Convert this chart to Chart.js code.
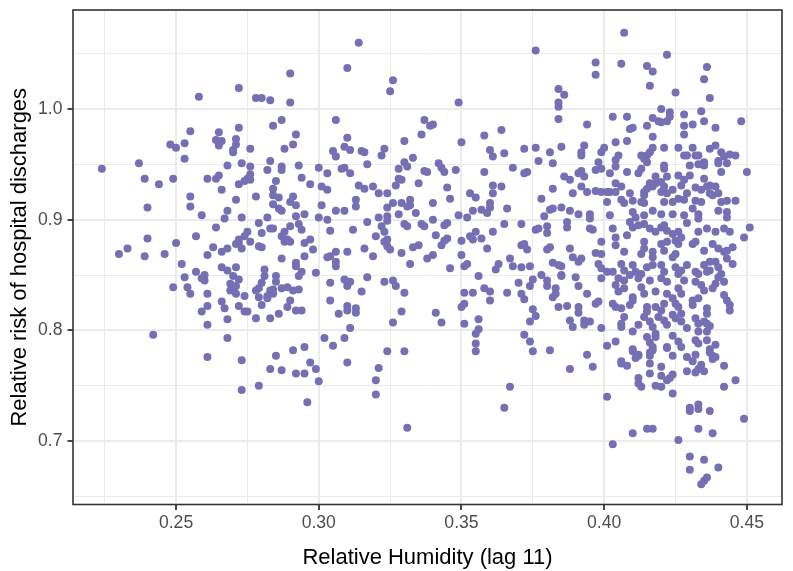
<!DOCTYPE html>
<html>
<head>
<meta charset="utf-8">
<script src="https://cdn.jsdelivr.net/npm/chart.js@4.4.1/dist/chart.umd.min.js"></script>
<style>
  html, body { margin: 0; padding: 0; background: #ffffff; }
  #wrap { width: 793px; height: 571px; position: relative; }
</style>
</head>
<body>
<div id="wrap"><canvas id="scatter"></canvas></div>
<script>
// [relative humidity (lag 11), relative risk], grouped by area
const leftUpper = [
  [0.272,1.019],[0.258,1.011],[0.255,0.980],[0.265,0.979],[0.272,0.983],[0.248,0.968],[0.250,0.965],[0.253,0.969],
  [0.264,0.972],[0.266,0.971],[0.265,0.967],[0.271,0.973],[0.271,0.968],[0.270,0.963],[0.270,0.961],[0.276,0.964],
  [0.253,0.955],[0.224,0.946],[0.237,0.951],[0.268,0.949],[0.273,0.951],[0.276,0.948],[0.239,0.937],[0.244,0.932],
  [0.249,0.937],[0.261,0.937],[0.264,0.937],[0.265,0.940],[0.266,0.927],[0.272,0.932],[0.274,0.935],[0.275,0.937],
  [0.276,0.936],[0.255,0.921],[0.255,0.912],[0.240,0.911],[0.271,0.918],[0.268,0.908],[0.267,0.901],[0.273,0.902],
  [0.259,0.904],[0.264,0.893],[0.240,0.883],[0.257,0.885],[0.233,0.874],[0.230,0.869],[0.239,0.867],[0.246,0.869],
  [0.250,0.879],[0.263,0.875],[0.261,0.868],[0.266,0.871],[0.268,0.874],[0.272,0.882],[0.272,0.879],[0.274,0.885],
  [0.275,0.889],[0.276,0.880],[0.273,0.874],[0.271,0.878]
];
const leftLower = [
  [0.252,0.860],[0.257,0.853],[0.253,0.848],[0.249,0.839],[0.254,0.839],[0.255,0.833],[0.259,0.847],[0.260,0.850],
  [0.260,0.845],[0.261,0.833],[0.261,0.822],[0.259,0.817],[0.261,0.805],[0.266,0.857],[0.268,0.854],[0.270,0.849],
  [0.271,0.857],[0.272,0.846],[0.269,0.842],[0.270,0.838],[0.269,0.836],[0.271,0.840],[0.271,0.833],[0.274,0.831],
  [0.266,0.826],[0.267,0.820],[0.272,0.822],[0.274,0.817],[0.275,0.817],[0.268,0.810],[0.242,0.796],[0.268,0.793],
  [0.261,0.776],[0.273,0.773],[0.273,0.746]
];
const midLeftUpper = [
  [0.314,1.060],[0.310,1.037],[0.290,1.032],[0.326,1.026],[0.325,1.016],[0.278,1.010],[0.280,1.010],[0.283,1.008],
  [0.290,1.006],[0.306,0.990],[0.337,0.990],[0.287,0.990],[0.284,0.985],[0.292,0.977],[0.310,0.974],[0.336,0.977],
  [0.330,0.971],[0.291,0.968],[0.288,0.964],[0.309,0.966],[0.311,0.963],[0.305,0.962],[0.306,0.957],[0.315,0.962],
  [0.316,0.961],[0.323,0.964],[0.322,0.958],[0.333,0.956],[0.283,0.953],[0.282,0.945],[0.276,0.941],[0.293,0.949],
  [0.287,0.948],[0.287,0.945],[0.300,0.947],[0.303,0.942],[0.308,0.946],[0.309,0.947],[0.311,0.942],[0.317,0.950],
  [0.328,0.946],[0.330,0.952],[0.331,0.948],[0.337,0.944],[0.338,0.943],[0.294,0.938],[0.285,0.935],[0.284,0.928],
  [0.297,0.932],[0.301,0.930],[0.303,0.927],[0.314,0.931],[0.316,0.928],[0.319,0.930],[0.321,0.924],[0.324,0.924],
  [0.328,0.937],[0.329,0.936],[0.327,0.931],[0.335,0.933],[0.278,0.921],[0.284,0.922],[0.286,0.920],[0.291,0.921],
  [0.290,0.916],[0.292,0.913],[0.284,0.914],[0.286,0.910],[0.287,0.908],[0.301,0.913],[0.306,0.908],[0.309,0.908],
  [0.313,0.918],[0.313,0.912],[0.324,0.911],[0.326,0.915],[0.329,0.915],[0.332,0.918],[0.332,0.913],[0.331,0.912],
  [0.334,0.906],[0.328,0.905],[0.295,0.905],[0.292,0.903],[0.282,0.902],[0.300,0.902],[0.303,0.900],[0.321,0.902],
  [0.324,0.903],[0.324,0.899],[0.317,0.898],[0.279,0.897],[0.283,0.892],[0.284,0.892],[0.290,0.894],[0.293,0.896],
  [0.294,0.891],[0.288,0.889],[0.287,0.885],[0.289,0.882],[0.290,0.880],[0.288,0.880],[0.280,0.888],[0.279,0.876],
  [0.280,0.875],[0.297,0.882],[0.295,0.879],[0.298,0.873],[0.304,0.890],[0.312,0.891],[0.322,0.894],[0.323,0.889],
  [0.330,0.896],[0.331,0.894],[0.336,0.896],[0.337,0.894],[0.320,0.885],[0.323,0.880],[0.324,0.876],[0.325,0.873],
  [0.324,0.882],[0.316,0.874],[0.310,0.871],[0.306,0.871],[0.304,0.867],[0.303,0.866],[0.329,0.870],[0.333,0.875],
  [0.335,0.877],[0.295,0.867],[0.287,0.865],[0.319,0.867],[0.338,0.865]
];
const midLeftLower = [
  [0.292,0.861],[0.292,0.858],[0.281,0.855],[0.294,0.853],[0.293,0.849],[0.299,0.852],[0.281,0.849],[0.280,0.843],
  [0.279,0.838],[0.278,0.836],[0.279,0.830],[0.285,0.849],[0.285,0.844],[0.283,0.836],[0.284,0.833],[0.282,0.831],
  [0.284,0.837],[0.287,0.838],[0.289,0.839],[0.291,0.836],[0.293,0.837],[0.282,0.829],[0.280,0.823],[0.290,0.827],
  [0.289,0.821],[0.286,0.815],[0.283,0.811],[0.278,0.811],[0.292,0.818],[0.294,0.818],[0.304,0.843],[0.304,0.827],
  [0.309,0.846],[0.310,0.844],[0.310,0.840],[0.311,0.844],[0.317,0.848],[0.315,0.835],[0.310,0.822],[0.310,0.818],
  [0.307,0.815],[0.313,0.820],[0.313,0.816],[0.311,0.802],[0.302,0.793],[0.309,0.793],[0.305,0.786],[0.323,0.844],
  [0.326,0.845],[0.327,0.840],[0.330,0.834],[0.329,0.817],[0.326,0.807],[0.332,0.860],[0.306,0.862],[0.306,0.858],
  [0.295,0.785],[0.291,0.782],[0.285,0.777],[0.297,0.771],[0.283,0.765],[0.287,0.764],[0.292,0.761],[0.295,0.761],
  [0.299,0.765],[0.300,0.754],[0.279,0.750],[0.296,0.735],[0.310,0.771],[0.324,0.781],[0.330,0.781],[0.321,0.766],
  [0.320,0.755],[0.320,0.742],[0.331,0.712]
];
const midRightUpper = [
  [0.376,1.053],[0.397,1.042],[0.397,1.031],[0.384,1.018],[0.386,1.013],[0.384,1.006],[0.384,1.002],[0.349,1.006],
  [0.384,0.991],[0.340,0.986],[0.339,0.985],[0.364,0.981],[0.394,0.986],[0.358,0.976],[0.350,0.970],[0.360,0.963],
  [0.361,0.957],[0.365,0.960],[0.372,0.964],[0.376,0.965],[0.381,0.961],[0.385,0.966],[0.393,0.967],[0.392,0.961],
  [0.392,0.958],[0.377,0.953],[0.382,0.951],[0.342,0.951],[0.343,0.947],[0.344,0.943],[0.348,0.945],[0.358,0.943],
  [0.368,0.947],[0.372,0.942],[0.373,0.943],[0.386,0.939],[0.388,0.936],[0.391,0.942],[0.392,0.944],[0.393,0.939],
  [0.397,0.945],[0.345,0.929],[0.361,0.931],[0.361,0.924],[0.364,0.930],[0.353,0.924],[0.355,0.920],[0.346,0.919],
  [0.340,0.915],[0.382,0.928],[0.389,0.924],[0.392,0.930],[0.394,0.925],[0.397,0.926],[0.378,0.919],[0.360,0.915],
  [0.360,0.911],[0.354,0.908],[0.357,0.909],[0.359,0.906],[0.366,0.910],[0.381,0.909],[0.382,0.910],[0.385,0.911],
  [0.388,0.908],[0.391,0.905],[0.395,0.905],[0.395,0.901],[0.349,0.904],[0.352,0.902],[0.340,0.900],[0.379,0.903],
  [0.345,0.897],[0.344,0.895],[0.365,0.896],[0.371,0.896],[0.387,0.898],[0.387,0.893],[0.380,0.894],[0.380,0.888],
  [0.376,0.891],[0.377,0.892],[0.395,0.892],[0.396,0.891],[0.355,0.889],[0.361,0.889],[0.341,0.886],[0.345,0.883],
  [0.344,0.881],[0.343,0.877],[0.350,0.881],[0.353,0.885],[0.354,0.882],[0.357,0.883],[0.359,0.874],[0.371,0.877],
  [0.372,0.878],[0.373,0.873],[0.380,0.873],[0.381,0.875],[0.388,0.874],[0.397,0.870],[0.350,0.868],[0.340,0.868],
  [0.367,0.865],[0.389,0.866],[0.392,0.865]
];
const midRightLower = [
  [0.351,0.858],[0.352,0.860],[0.346,0.856],[0.363,0.860],[0.362,0.855],[0.368,0.858],[0.371,0.857],[0.374,0.858],
  [0.382,0.861],[0.384,0.859],[0.385,0.858],[0.385,0.850],[0.385,0.849],[0.391,0.862],[0.356,0.849],[0.351,0.834],
  [0.354,0.834],[0.350,0.821],[0.351,0.824],[0.341,0.816],[0.343,0.807],[0.351,0.806],[0.358,0.838],[0.360,0.835],
  [0.360,0.827],[0.366,0.834],[0.370,0.843],[0.375,0.846],[0.378,0.850],[0.380,0.845],[0.380,0.840],[0.374,0.840],
  [0.371,0.833],[0.372,0.828],[0.383,0.838],[0.383,0.833],[0.382,0.830],[0.390,0.848],[0.391,0.840],[0.394,0.833],
  [0.397,0.824],[0.384,0.821],[0.387,0.822],[0.391,0.821],[0.391,0.816],[0.375,0.819],[0.376,0.813],[0.374,0.808],
  [0.388,0.809],[0.389,0.803],[0.393,0.809],[0.395,0.808],[0.393,0.805],[0.356,0.810],[0.356,0.801],[0.355,0.797],
  [0.355,0.788],[0.355,0.781],[0.372,0.796],[0.374,0.790],[0.375,0.781],[0.381,0.782],[0.394,0.778],[0.396,0.767],
  [0.388,0.765],[0.367,0.749],[0.365,0.730]
];
const rightTop = [
  [0.407,1.069],[0.406,1.041],[0.415,1.039],[0.417,1.034],[0.422,1.049],[0.416,1.021],[0.425,1.015],[0.420,1.000],
  [0.423,0.997],[0.423,0.993],[0.422,0.989],[0.420,0.988],[0.419,0.989],[0.417,0.992],[0.403,0.993],[0.408,0.993],
  [0.415,0.985],[0.428,0.995],[0.428,0.985],[0.409,0.982],[0.410,0.983],[0.417,0.975],[0.428,0.977],[0.408,0.971],
  [0.404,0.970],[0.400,0.965],[0.399,0.961],[0.417,0.965],[0.416,0.961],[0.415,0.958],[0.413,0.958],[0.414,0.955],
  [0.421,0.965],[0.426,0.965],[0.428,0.958],[0.405,0.958],[0.404,0.954],[0.398,0.952],[0.399,0.946],[0.415,0.952],
  [0.404,0.948],[0.421,0.949],[0.421,0.946],[0.413,0.946],[0.412,0.942],[0.408,0.943],[0.402,0.942],[0.418,0.939],
  [0.420,0.934],[0.422,0.939],[0.426,0.940],[0.428,0.936],[0.427,0.931],[0.404,0.933],[0.406,0.930],[0.416,0.933],
  [0.417,0.930],[0.418,0.933],[0.421,0.930],[0.414,0.925],[0.415,0.928],[0.399,0.925],[0.401,0.925],[0.402,0.925],
  [0.404,0.925],[0.409,0.924],[0.420,0.925],[0.422,0.924],[0.424,0.927],[0.414,0.922],[0.401,0.916],[0.406,0.918],
  [0.407,0.915],[0.410,0.917],[0.413,0.916],[0.414,0.915],[0.421,0.916],[0.424,0.916],[0.426,0.919],[0.428,0.918],
  [0.436,1.038],[0.435,1.027],[0.437,1.010],[0.434,0.998],[0.435,0.989],[0.431,0.986],[0.439,0.983],[0.448,0.989],
  [0.431,0.965],[0.429,0.958],[0.432,0.958],[0.433,0.958],[0.437,0.964],[0.439,0.967],[0.441,0.961],[0.442,0.957],
  [0.444,0.959],[0.446,0.958],[0.435,0.952],[0.435,0.951],[0.435,0.949],[0.433,0.950],[0.440,0.953],[0.440,0.951],
  [0.443,0.951],[0.430,0.949],[0.441,0.943],[0.450,0.943],[0.430,0.940],[0.435,0.937],[0.432,0.929],[0.434,0.927],
  [0.436,0.930],[0.437,0.931],[0.439,0.930],[0.429,0.924],[0.437,0.924],[0.438,0.922],[0.440,0.924],[0.432,0.917],
  [0.434,0.916],[0.441,0.916],[0.443,0.917],[0.446,0.917]
];
const rightMiddle = [
  [0.402,0.904],[0.410,0.907],[0.411,0.902],[0.414,0.904],[0.417,0.908],[0.420,0.905],[0.424,0.905],[0.428,0.904],
  [0.403,0.892],[0.409,0.898],[0.410,0.893],[0.412,0.895],[0.414,0.896],[0.416,0.892],[0.418,0.889],[0.420,0.893],
  [0.421,0.895],[0.422,0.890],[0.424,0.887],[0.426,0.889],[0.427,0.884],[0.408,0.886],[0.404,0.884],[0.399,0.880],
  [0.399,0.869],[0.404,0.877],[0.407,0.871],[0.414,0.880],[0.414,0.874],[0.413,0.869],[0.417,0.871],[0.417,0.866],
  [0.420,0.878],[0.421,0.872],[0.422,0.880],[0.425,0.881],[0.426,0.878],[0.425,0.869],[0.424,0.866],[0.398,0.860],
  [0.399,0.856],[0.401,0.853],[0.399,0.847],[0.403,0.853],[0.405,0.847],[0.406,0.860],[0.407,0.854],[0.409,0.850],
  [0.410,0.859],[0.411,0.853],[0.412,0.847],[0.413,0.851],[0.415,0.857],[0.417,0.859],[0.416,0.845],[0.420,0.859],
  [0.421,0.853],[0.420,0.847],[0.422,0.844],[0.425,0.857],[0.426,0.851],[0.427,0.854],[0.428,0.845],[0.404,0.841],
  [0.405,0.835],[0.407,0.845],[0.407,0.838],[0.413,0.839],[0.414,0.833],[0.418,0.835],[0.422,0.833],[0.424,0.829],
  [0.426,0.838],[0.427,0.833],[0.398,0.826],[0.403,0.824],[0.404,0.821],[0.406,0.820],[0.410,0.827],[0.410,0.830],
  [0.409,0.823],[0.415,0.821],[0.415,0.817],[0.418,0.821],[0.420,0.818],[0.421,0.824],[0.425,0.824],[0.426,0.821],
  [0.427,0.815],[0.407,0.812],[0.406,0.806],[0.406,0.803],[0.399,0.802],[0.412,0.805],[0.414,0.812],[0.416,0.808],
  [0.417,0.803],[0.419,0.812],[0.421,0.809],[0.422,0.805],[0.424,0.814],[0.425,0.811],[0.427,0.808],[0.410,0.799],
  [0.418,0.797],[0.418,0.794],[0.424,0.795],[0.415,0.794],[0.416,0.789],[0.417,0.785],[0.422,0.785],[0.401,0.786],
  [0.404,0.790],[0.410,0.783],[0.426,0.790],[0.427,0.785]
];
const farRightMiddle = [
  [0.431,0.910],[0.433,0.905],[0.433,0.901],[0.440,0.908],[0.443,0.907],[0.443,0.902],[0.451,0.893],[0.449,0.884],
  [0.429,0.897],[0.433,0.889],[0.436,0.892],[0.439,0.889],[0.442,0.892],[0.444,0.889],[0.431,0.878],[0.432,0.880],
  [0.435,0.872],[0.438,0.878],[0.440,0.874],[0.442,0.871],[0.443,0.872],[0.445,0.875],[0.443,0.865],[0.445,0.860],
  [0.429,0.859],[0.435,0.859],[0.437,0.862],[0.439,0.862],[0.440,0.857],[0.437,0.854],[0.436,0.853],[0.432,0.853],
  [0.433,0.851],[0.440,0.848],[0.441,0.851],[0.442,0.844],[0.439,0.842],[0.438,0.838],[0.432,0.844],[0.434,0.841],
  [0.435,0.836],[0.442,0.832],[0.443,0.827],[0.444,0.823],[0.444,0.818],[0.431,0.827],[0.433,0.829],[0.431,0.823],
  [0.436,0.820],[0.436,0.815],[0.432,0.811],[0.433,0.806],[0.435,0.808],[0.436,0.806],[0.437,0.804],[0.429,0.802],
  [0.433,0.799],[0.436,0.799],[0.432,0.791],[0.433,0.788],[0.436,0.791],[0.439,0.787],[0.437,0.783]
];
const rightBottom = [
  [0.410,0.781],[0.412,0.777],[0.411,0.775],[0.412,0.778],[0.416,0.780],[0.416,0.777],[0.417,0.782],[0.422,0.784],
  [0.424,0.777],[0.429,0.776],[0.431,0.772],[0.432,0.778],[0.437,0.780],[0.438,0.777],[0.438,0.774],[0.439,0.776],
  [0.406,0.770],[0.406,0.772],[0.408,0.768],[0.416,0.770],[0.420,0.767],[0.434,0.769],[0.433,0.765],[0.432,0.762],
  [0.435,0.763],[0.429,0.763],[0.442,0.768],[0.416,0.761],[0.420,0.759],[0.424,0.760],[0.423,0.757],[0.422,0.755],
  [0.412,0.757],[0.412,0.752],[0.413,0.749],[0.418,0.750],[0.420,0.749],[0.446,0.755],[0.442,0.749],[0.424,0.743],
  [0.401,0.740],[0.430,0.730],[0.430,0.727],[0.433,0.733],[0.433,0.729],[0.437,0.727],[0.449,0.720],[0.415,0.711],
  [0.417,0.711],[0.410,0.707],[0.433,0.711],[0.438,0.707],[0.426,0.701],[0.403,0.697],[0.430,0.686],[0.435,0.683],
  [0.440,0.676],[0.430,0.674],[0.436,0.667],[0.435,0.664],[0.434,0.661]
];

const xMajor = [0.25, 0.30, 0.35, 0.40, 0.45];
const xLabels = ['0.25', '0.30', '0.35', '0.40', '0.45'];
const xMinor = [0.225, 0.275, 0.325, 0.375, 0.425];
const yMajor = [0.7, 0.8, 0.9, 1.0];
const yLabels = ['0.7', '0.8', '0.9', '1.0'];
const yMinor = [0.65, 0.75, 0.85, 0.95, 1.05];

const allPoints = [].concat(leftUpper, leftLower, midLeftUpper, midLeftLower,
  midRightUpper, midRightLower, rightTop, rightMiddle, farRightMiddle, rightBottom)
  .map(p => ({ x: p[0], y: p[1] }));

const fontFamily = '"Liberation Sans", Arial, sans-serif';

function findMajor(list, v) {
  return list.findIndex(m => Math.abs(m - v) < 1e-9);
}

function tickSetter(major, minor) {
  return scale => {
    scale.ticks = major.concat(minor).sort((a, b) => a - b).map(v => ({ value: v }));
  };
}

function gridFor(major) {
  return {
    color: '#EBEBEB',
    lineWidth: c => (c.tick && findMajor(major, c.tick.value) >= 0) ? 2 : 1,
    tickColor: c => (c.tick && findMajor(major, c.tick.value) >= 0) ? '#333333' : 'rgba(0,0,0,0)',
    tickLength: 5.5,
    tickWidth: 1.8
  };
}

// panel border like ggplot's theme_bw
const panelBorder = {
  id: 'panelBorder',
  afterDraw(chart) {
    const a = chart.chartArea;
    const c = chart.ctx;
    c.save();
    c.strokeStyle = '#333333';
    c.lineWidth = 1.6;
    c.strokeRect(a.left, a.top, a.right - a.left, a.bottom - a.top);
    c.restore();
  }
};

new Chart(document.getElementById('scatter'), {
  type: 'scatter',
  data: {
    datasets: [{
      data: allPoints,
      backgroundColor: '#7570B3',
      borderWidth: 0,
      pointRadius: 4,
      pointHoverRadius: 4
    }]
  },
  options: {
    responsive: true,
    maintainAspectRatio: false,
    animation: false,
    layout: { padding: { top: 10, right: 11, left: 0, bottom: 0 } },
    plugins: { legend: { display: false }, tooltip: { enabled: false } },
    scales: {
      x: {
        type: 'linear',
        min: 0.2139,
        max: 0.4623,
        afterBuildTicks: tickSetter(xMajor, xMinor),
        afterFit: s => { s.height = 66.5; s.paddingLeft = 0; s.paddingRight = 0; },
        grid: gridFor(xMajor),
        border: { display: false },
        ticks: {
          autoSkip: false,
          maxRotation: 0,
          padding: 3,
          color: '#4D4D4D',
          font: { family: fontFamily, size: 17.6 },
          callback: v => { const i = findMajor(xMajor, v); return i >= 0 ? xLabels[i] : ''; }
        },
        title: {
          display: true,
          text: 'Relative Humidity (lag 11)',
          color: '#000000',
          font: { family: fontFamily, size: 22 },
          padding: { top: 8, bottom: 0 }
        }
      },
      y: {
        type: 'linear',
        min: 0.6426,
        max: 1.0895,
        afterBuildTicks: tickSetter(yMajor, yMinor),
        afterFit: s => { s.width = 73; s.paddingTop = 0; s.paddingBottom = 0; },
        grid: gridFor(yMajor),
        border: { display: false },
        ticks: {
          autoSkip: false,
          padding: 5,
          color: '#4D4D4D',
          font: { family: fontFamily, size: 17.6 },
          callback: v => { const i = findMajor(yMajor, v); return i >= 0 ? yLabels[i] : ''; }
        },
        title: {
          display: true,
          text: 'Relative risk of hospital discharges',
          color: '#000000',
          font: { family: fontFamily, size: 22 },
          padding: { top: 7, bottom: 0 }
        }
      }
    }
  },
  plugins: [panelBorder]
});
</script>
</body>
</html>
